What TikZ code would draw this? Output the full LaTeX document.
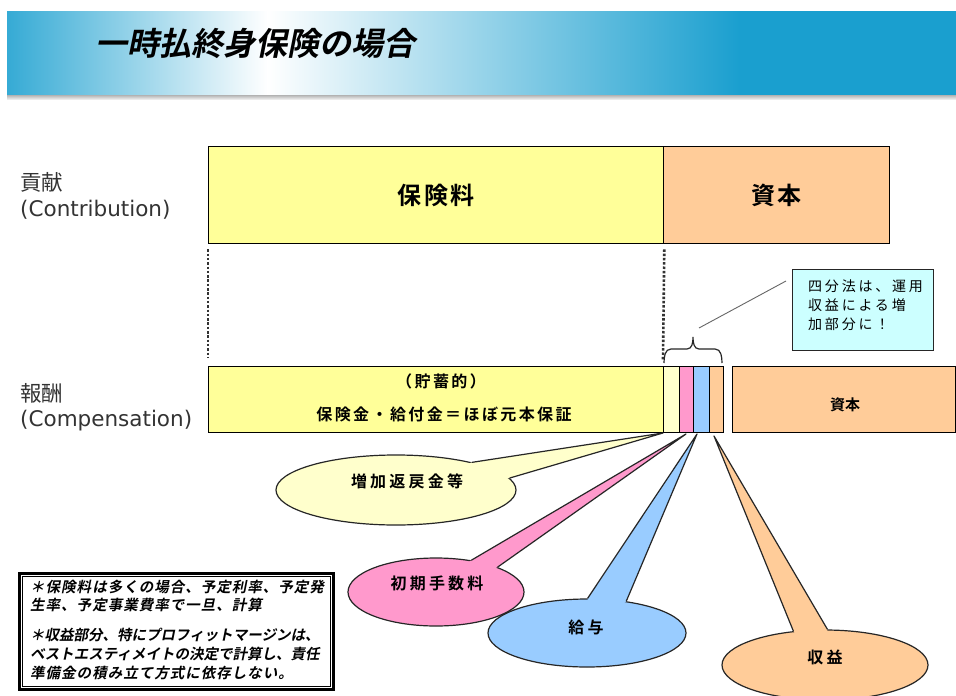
\documentclass[tikz,border=0pt]{standalone}
\usepackage{fontspec}
\setmainfont{DejaVu Sans}
\newfontfamily\jp{Noto Sans CJK JP}
\newfontfamily\jpb{Noto Sans CJK JP Bold}
\newfontfamily\jpbi{Noto Sans CJK JP Bold}[FakeSlant=0.2]
\newfontfamily\dv{DejaVu Sans}
\usetikzlibrary{shapes.geometric,calc}
\definecolor{hb}{HTML}{1A9FCF}
\definecolor{ylw}{HTML}{FFFF99}
\definecolor{org}{HTML}{FFCC99}
\definecolor{lyl}{HTML}{FFFFCC}
\definecolor{pnk}{HTML}{FF99CC}
\definecolor{blu}{HTML}{99CCFF}
\definecolor{cyn}{HTML}{CCFFFF}
\begin{document}
\begin{tikzpicture}[x=1pt,y=-1pt,
  box/.style={draw=black, line width=1.3pt, inner sep=0pt, anchor=north west},
  strip/.style={draw=black, line width=1pt, inner sep=0pt, anchor=north west, minimum width=#1, minimum height=66pt},
  ell/.style={ellipse, draw=black!85, line width=1.2pt, inner sep=0pt},
  tailline/.style={draw=black!85, line width=1.2pt, line join=round},
  etext/.style={font=\fontsize{16}{18}\selectfont\jpb\addfontfeature{LetterSpace=20}},
  bigt/.style={font=\fontsize{24}{28}\selectfont\jpb\addfontfeature{LetterSpace=10}},
  midt/.style={font=\fontsize{16}{18}\selectfont\jpb\addfontfeature{LetterSpace=15}},
  lbl/.style={anchor=west, inner sep=0pt, text=black!80, font=\fontsize{21.5}{25}\selectfont},
  note/.style={anchor=west, inner sep=0pt, font=\fontsize{14.5}{17}\selectfont\jpbi},
  notew/.style={note, font=\fontsize{14.5}{17}\selectfont\jpbi\addfontfeature{LetterSpace=7}},
  call/.style={anchor=west, inner sep=0pt, font=\fontsize{14}{17}\selectfont\jp\addfontfeature{LetterSpace=20}},
  dotline/.style={line width=2.6pt, dash pattern=on 2.5pt off 1.8pt, black!80}
]
\useasboundingbox (0,0) rectangle (956,696);
\fill[white] (0,0) rectangle (956,696);
% header
\shade[left color=hb!88, right color=white] (7,11) rectangle (268,95);
\shade[left color=white, right color=hb] (267,11) rectangle (740,95);
\fill[hb] (739,11) rectangle (956,95);
\shade[top color=black!30, bottom color=black!8] (7,95) rectangle (956,99);
\node[anchor=west, inner sep=0pt, font=\fontsize{32}{35}\selectfont\jpbi] (title) at (95,43) {一時払終身保険の場合};
% labels
\node[lbl] (l1) at (20,182) {\jp 貢献};
\node[lbl] (l2) at (20,210) {(Contribution)};
\node[lbl] (l3) at (20,393) {\jp 報酬};
\node[lbl] (l4) at (20,421) {(Compensation)};
% top bar
\node[box, fill=ylw, minimum width=455pt, minimum height=97pt] (prem) at (208,146) {};
\node[box, fill=org, minimum width=226pt, minimum height=97pt] (cap) at (663,146) {};
\node[bigt] (premt) at (prem.center) {保険料};
\node[bigt] (capt) at (cap.center) {資本};
% bottom bar
\node[box, fill=ylw, minimum width=455pt, minimum height=66pt] (ret) at (208,366) {};
\node[strip=16pt, fill=lyl] (s1) at (663,366) {};
\node[strip=14pt, fill=pnk] (s2) at (679,366) {};
\node[strip=16pt, fill=blu] (s3) at (693,366) {};
\node[strip=14pt, fill=org] (s4) at (709,366) {};
\node[box, fill=org, minimum width=223pt, minimum height=66pt] (cap2) at (732,366) {};
\node[midt] (rt1) at (441,381) {（貯蓄的）};
\node[midt] (rt2) at (444,414) {保険金・給付金＝ほぼ元本保証};
\node[font=\fontsize{15}{18}\selectfont\jpb] (cap2t) at (845,405) {資本};
% dotted lines
\draw[dotline] ($(prem.south west)+(0,5)$) -- ($(ret.north west)+(0,-8)$);
\draw[dotline] ($(prem.south east)+(0,5)$) -- ($(s1.north west)+(0,-6)$);
% brace
\draw[black!85, line width=1.2pt] (664,363) to[out=90,in=180] (671,349) -- (687,349) to[out=0,in=-90] (693,337)
  to[out=-90,in=180] (699,349) -- (715,349) to[out=0,in=90] (722,363);
% callout box
\node[draw=black!85, line width=1.2pt, fill=cyn, anchor=north west, minimum width=141pt, minimum height=81pt, inner sep=0pt] (cb) at (792,269) {};
\node[call] (cb1) at (808,286) {四分法は、運用};
\node[call] (cb2) at (808,305) {収益による増};
\node[call] (cb3) at (808,324) {加部分に！};
\coordinate (bt) at (699,328);
\coordinate (bp) at (786,281);
\draw[black!60, line width=0.9pt] (bt) -- (bp);
% tips
\coordinate (t1) at (663,433);
\coordinate (t2) at (686,434);
\coordinate (t3) at (697,434);
\coordinate (t4) at (714,436);
% yellow bubble
\node[ell, fill=lyl, minimum width=240pt, minimum height=70pt] (e1) at (396,490) {};
\fill[lyl] ($(e1.center)!0.8!(e1.20)$) -- (e1.20) -- (t1) -- (e1.6) -- ($(e1.center)!0.8!(e1.6)$) -- cycle;
\draw[tailline] (e1.20) -- (t1) -- (e1.6);
\node[etext] (e1t) at (407,481) {増加返戻金等};
% pink bubble
\node[ell, fill=pnk, minimum width=176pt, minimum height=68pt] (e2) at (436,592) {};
\fill[pnk] ($(e2.center)!0.8!(e2.42)$) -- (e2.42) -- (t2) -- (e2.22) -- ($(e2.center)!0.8!(e2.22)$) -- cycle;
\draw[tailline] (e2.42) -- (t2) -- (e2.22);
\node[etext] (e2t) at (437,583) {初期手数料};
% blue bubble
\node[ell, fill=blu, minimum width=198pt, minimum height=68pt] (e3) at (587,633) {};
\fill[blu] ($(e3.center)!0.8!(e3.89)$) -- (e3.89) -- (t3) -- (e3.39) -- ($(e3.center)!0.8!(e3.39)$) -- cycle;
\draw[tailline] (e3.89) -- (t3) -- (e3.39);
\node[etext] (e3t) at (586,627) {給与};
% orange bubble
\node[ell, fill=org, minimum width=206pt, minimum height=70pt] (e4) at (825,665) {};
\fill[org] ($(e4.center)!0.8!(e4.133)$) -- (e4.133) -- (t4) -- (e4.86) -- ($(e4.center)!0.8!(e4.86)$) -- cycle;
\draw[tailline] (e4.133) -- (t4) -- (e4.86);
\node[etext] (e4t) at (825,657) {収益};
% notes box
\node[draw=black, line width=2.5pt, anchor=north west, minimum width=314pt, minimum height=116pt, inner sep=0pt] (nb) at (18,572) {};
\draw[black, line width=0.8pt] ($(nb.north west)+(4,4)$) rectangle ($(nb.south east)+(-4,-4)$);
\node[notew] (n1) at (30,587) {＊保険料は多くの場合、予定利率、予定発};
\node[notew] (n2) at (30,605) {生率、予定事業費率で一旦、計算};
\node[note] (n3) at (30,635) {＊収益部分、特にプロフィットマージンは、};
\node[note] (n4) at (30,654) {ベストエスティメイトの決定で計算し、責任};
\node[notew] (n5) at (30,673) {準備金の積み立て方式に依存しない。};
\end{tikzpicture}
\end{document}
